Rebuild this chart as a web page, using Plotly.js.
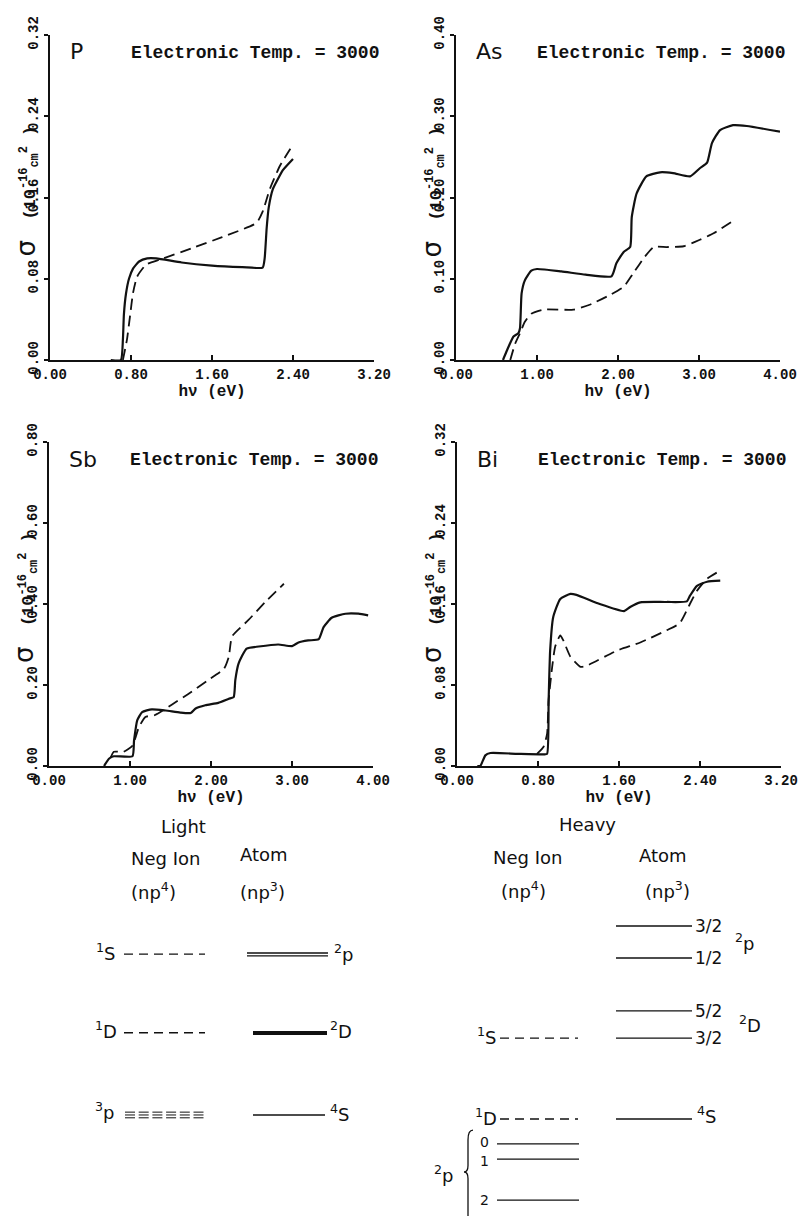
<!DOCTYPE html>
<html><head><meta charset="utf-8">
<script src="https://cdn.plot.ly/plotly-3.0.1.min.js"></script>
<style>html,body{margin:0;padding:0;background:#fff;} #chart{width:807px;height:1216px;}</style>
</head><body><div id="chart"></div>
<script>
// ---------------- DATA ----------------
// P panel (photodetachment cross section, 10^-16 cm^2 vs h nu, eV)
const pSolidX = [0.60, 0.70, 0.72, 0.73, 0.75, 0.78, 0.82, 0.88, 0.96, 1.05, 1.30, 1.60, 1.90, 2.10, 2.12, 2.14, 2.16, 2.20, 2.25, 2.30, 2.40];
const pSolidY = [0, 0, 0.02, 0.045, 0.065, 0.08, 0.09, 0.097, 0.1, 0.1, 0.096, 0.093, 0.0915, 0.091, 0.1, 0.13, 0.15, 0.168, 0.178, 0.187, 0.198];
const pDashX  = [0.72, 0.76, 0.79, 0.82, 0.86, 0.95, 1.09, 1.40, 1.70, 2.04, 2.10, 2.17, 2.27, 2.40];
const pDashY  = [0, 0.02, 0.043, 0.066, 0.082, 0.094, 0.099, 0.11, 0.121, 0.135, 0.146, 0.168, 0.191, 0.212];
// As panel
const asSolidX = [0.58, 0.63, 0.71, 0.77, 0.79, 0.81, 0.85, 0.93, 1.00, 1.30, 1.60, 1.92, 1.98, 2.07, 2.15, 2.17, 2.23, 2.35, 2.52, 2.68, 2.89, 3.01, 3.10, 3.16, 3.26, 3.42, 3.59, 4.00];
const asSolidY = [0, 0.012, 0.029, 0.033, 0.039, 0.082, 0.098, 0.11, 0.112, 0.109, 0.105, 0.103, 0.119, 0.133, 0.139, 0.176, 0.205, 0.226, 0.231, 0.230, 0.226, 0.236, 0.243, 0.267, 0.283, 0.289, 0.288, 0.281];
const asDashX  = [0.67, 0.73, 0.79, 0.85, 0.93, 1.08, 1.45, 1.65, 1.90, 2.07, 2.19, 2.33, 2.44, 2.60, 2.81, 3.01, 3.18, 3.40];
const asDashY  = [0, 0.02, 0.033, 0.047, 0.057, 0.062, 0.062, 0.068, 0.08, 0.09, 0.107, 0.127, 0.139, 0.139, 0.14, 0.148, 0.156, 0.170];
// Sb panel
const sbSolidX = [0.68, 0.74, 0.80, 1.03, 1.05, 1.09, 1.15, 1.27, 1.44, 1.62, 1.75, 1.81, 1.93, 2.09, 2.22, 2.28, 2.30, 2.34, 2.44, 2.59, 2.83, 3.00, 3.08, 3.20, 3.33, 3.39, 3.49, 3.66, 3.82, 3.94];
const sbSolidY = [0, 0.018, 0.024, 0.024, 0.063, 0.113, 0.133, 0.14, 0.137, 0.132, 0.131, 0.142, 0.15, 0.156, 0.166, 0.17, 0.212, 0.253, 0.29, 0.295, 0.30, 0.296, 0.305, 0.31, 0.313, 0.343, 0.366, 0.376, 0.376, 0.372];
const sbDashX  = [0.76, 0.80, 0.92, 1.03, 1.11, 1.19, 1.31, 1.52, 1.72, 1.95, 2.16, 2.22, 2.26, 2.46, 2.67, 2.90];
const sbDashY  = [0.02, 0.035, 0.035, 0.05, 0.096, 0.121, 0.126, 0.152, 0.178, 0.21, 0.24, 0.27, 0.32, 0.36, 0.405, 0.45];
// Bi panel
const biSolidX = [0.20, 0.23, 0.28, 0.33, 0.60, 0.86, 0.89, 0.905, 0.92, 0.95, 1.02, 1.12, 1.18, 1.41, 1.65, 1.71, 1.81, 2.07, 2.27, 2.30, 2.37, 2.47, 2.60];
const biSolidY = [0, 0, 0.0105, 0.0128, 0.012, 0.0115, 0.012, 0.065, 0.114, 0.147, 0.165, 0.170, 0.169, 0.160, 0.153, 0.157, 0.1616, 0.162, 0.1626, 0.168, 0.178, 0.182, 0.183];
const biDashX  = [0.79, 0.855, 0.89, 0.905, 0.94, 0.97, 1.02, 1.05, 1.12, 1.22, 1.28, 1.58, 1.81, 2.07, 2.20, 2.30, 2.37, 2.47, 2.60];
const biDashY  = [0.012, 0.019, 0.032, 0.065, 0.098, 0.118, 0.129, 0.124, 0.108, 0.098, 0.099, 0.114, 0.122, 0.134, 0.141, 0.160, 0.173, 0.185, 0.193];

// tick values
const xTicksP  = [0, 0.8, 1.6, 2.4, 3.2];
const xTicksAs = [0, 1, 2, 3, 4];
const xTicksSb = [0, 1, 2, 3, 4];
const xTicksBi = [0, 0.8, 1.6, 2.4, 3.2];
const yTicksP  = [0, 0.08, 0.16, 0.24, 0.32];
const yTicksAs = [0, 0.1, 0.2, 0.3, 0.4];
const yTicksSb = [0, 0.2, 0.4, 0.6, 0.8];
const yTicksBi = [0, 0.08, 0.16, 0.24, 0.32];
const panelNames = ['P', 'As', 'Sb', 'Bi'];
const tempText = 'Electronic Temp. = 3000';

// schematic energy levels (units: level spacing)
const lightIon3P    = [0.06, 0.025, -0.01];
const lightIon1D1S  = [1.04, 2.01];
const lightAtom2P   = [2.025, 1.99];
const lightAtom2D   = [1.05, 1.025];
const lightAtom4S   = [0.025];
const heavyIon1D1S  = [-0.025, 0.975];
const heavyIon3P    = [-0.333, -0.519, -1.025];   // J = 0, 1, 2
const heavyIon3PJ   = ['0', '1', '2'];
const heavyAtomLevels = [-0.025, 0.975, 1.309, 1.963, 2.358]; // 4S, 2D3/2, 2D5/2, 2P1/2, 2P3/2
const heavyAtomJ      = ['', '3/2', '5/2', '1/2', '3/2'];

// ---------------- LAYOUT HELPERS ----------------
const W = 807, H = 1216;
const px = x => x / W, py = y => 1 - y / H;
const INK = '#111';
const monoB = (s) => ({family: 'Liberation Mono, DejaVu Sans Mono, monospace', size: s, weight: 'bold', color: INK});
const sans = (s) => ({family: 'DejaVu Sans, Liberation Sans, sans-serif', size: s, color: INK});

const panels = [
  {xa: 'x',  ya: 'y',  xd: [50, 374],  yd: [35, 360],  xr: [0, 3.2], yr: [0, 0.32], xt: xTicksP,  yt: yTicksP,  s: [pSolidX, pSolidY],  d: [pDashX, pDashY]},
  {xa: 'x2', ya: 'y2', xd: [456, 780], yd: [35, 360],  xr: [0, 4],   yr: [0, 0.40], xt: xTicksAs, yt: yTicksAs, s: [asSolidX, asSolidY], d: [asDashX, asDashY]},
  {xa: 'x3', ya: 'y3', xd: [49, 373],  yd: [442, 766], xr: [0, 4],   yr: [0, 0.80], xt: xTicksSb, yt: yTicksSb, s: [sbSolidX, sbSolidY], d: [sbDashX, sbDashY]},
  {xa: 'x4', ya: 'y4', xd: [457, 781], yd: [442, 766], xr: [0, 3.2], yr: [0, 0.32], xt: xTicksBi, yt: yTicksBi, s: [biSolidX, biSolidY], d: [biDashX, biDashY]}
];

const traces = [];
const layout = {
  width: W, height: H, margin: {l: 0, r: 0, t: 0, b: 0},
  paper_bgcolor: '#fff', plot_bgcolor: 'rgba(0,0,0,0)', showlegend: false,
  annotations: [], shapes: []
};

panels.forEach((p, i) => {
  const xk = 'xaxis' + (i ? i + 1 : ''), yk = 'yaxis' + (i ? i + 1 : '');
  layout[xk] = {
    domain: [px(p.xd[0]), px(p.xd[1])], range: p.xr, anchor: p.ya,
    showline: true, linecolor: INK, linewidth: 2, ticks: 'inside', ticklen: 5, tickwidth: 2, tickcolor: INK,
    tickvals: p.xt, tickformat: '.2f', tickfont: monoB(14), showgrid: false, zeroline: false, fixedrange: true,
    title: {text: 'hν (eV)', font: monoB(16), standoff: 1}
  };
  layout[yk] = {
    domain: [py(p.yd[1]), py(p.yd[0])], range: p.yr, anchor: p.xa,
    showline: true, linecolor: INK, linewidth: 2, ticks: 'outside', ticklen: 4, tickwidth: 2, tickcolor: INK,
    tickvals: p.yt, tickformat: '.2f', tickangle: -90, tickfont: monoB(14), showgrid: false, zeroline: false, fixedrange: true
  };
  traces.push({x: p.s[0], y: p.s[1], xaxis: p.xa, yaxis: p.ya, mode: 'lines', line: {color: INK, width: 2.2, shape: 'spline', smoothing: 0.5}, hoverinfo: 'skip'});
  traces.push({x: p.d[0], y: p.d[1], xaxis: p.xa, yaxis: p.ya, mode: 'lines', line: {color: INK, width: 1.8, dash: '11px,6px', shape: 'spline', smoothing: 0.5}, hoverinfo: 'skip'});
  // panel labels
  const lx = p.xd[0] + 18, ty = p.yd[0] + 17;
  layout.annotations.push({text: panelNames[i], xref: 'paper', yref: 'paper', x: px(lx), y: py(ty), xanchor: 'left', yanchor: 'middle', showarrow: false, font: sans(22)});
  layout.annotations.push({text: tempText, xref: 'paper', yref: 'paper', x: px(p.xd[0] + 79), y: py(ty + 1), xanchor: 'left', yanchor: 'middle', showarrow: false, font: monoB(18)});
  // y-axis title
  layout.annotations.push({
    text: '<span style="font-size:26px;font-weight:normal;font-family:DejaVu Sans">σ</span>  (10<sup>-16</sup><sub>cm</sub><sup>2</sup> )',
    xref: 'paper', yref: 'paper', x: px(p.xd[0] - 24), y: py((p.yd[0] + p.yd[1]) / 2 - 6), xanchor: 'center', yanchor: 'middle',
    textangle: -90, showarrow: false, font: monoB(17)
  });
});

// ---------------- ENERGY LEVEL DIAGRAM ----------------
const Y0PX = 1117, UNIT = 81;
layout.xaxis5 = {domain: [0, 1], range: [0, W], visible: false, fixedrange: true, anchor: 'y5'};
layout.yaxis5 = {domain: [0, py(800)], range: [(Y0PX - 1216) / UNIT, (Y0PX - 800) / UNIT], visible: false, fixedrange: true, anchor: 'x5'};

function levelTrace(levels, span, line) {
  const x = [], y = [];
  levels.forEach(l => { x.push(span[0], span[1], null); y.push(l, l, null); });
  return {x, y, xaxis: 'x5', yaxis: 'y5', mode: 'lines', line: Object.assign({color: INK}, line), hoverinfo: 'skip'};
}
// light
traces.push(levelTrace(lightIon3P, [125, 207], {width: 1, dash: '10px,3.7px'}));
traces.push(levelTrace(lightIon1D1S, [124, 205], {width: 1.3, dash: '9px,6px'}));
traces.push(levelTrace(lightAtom2P, [247, 328], {width: 1.3}));
traces.push(levelTrace(lightAtom2D, [253, 327], {width: 2}));
traces.push(levelTrace(lightAtom4S, [253, 325], {width: 1.3}));
// heavy
traces.push(levelTrace(heavyIon1D1S, [500, 578], {width: 1.3, dash: '9px,6px'}));
traces.push(levelTrace(heavyIon3P, [497, 579], {width: 1.3}));
traces.push(levelTrace(heavyAtomLevels, [616, 692], {width: 1.3}));

const lv = l => py(Y0PX - l * UNIT);
const ann = (text, x, yPaper, xanchor, size) => layout.annotations.push({text, xref: 'paper', yref: 'paper', x: px(x), y: yPaper, xanchor: xanchor || 'center', yanchor: 'middle', showarrow: false, font: sans(size || 18)});
// headers
ann('Light', 183, py(826)); ann('Neg Ion', 165, py(858)); ann('(np<sup>4</sup>)', 153, py(891));
ann('Atom', 264, py(854)); ann('(np<sup>3</sup>)', 262, py(891));
ann('Heavy', 587, py(824)); ann('Neg Ion', 527, py(857)); ann('(np<sup>4</sup>)', 523, py(890));
ann('Atom', 663, py(855)); ann('(np<sup>3</sup>)', 667, py(890));
// light labels
ann('<sup>1</sup>S', 117, lv(lightIon1D1S[1]) + 0.002, 'right');
ann('<sup>1</sup>D', 119, lv(lightIon1D1S[0]) + 0.002, 'right');
ann('<sup>3</sup>p', 116, lv(lightIon3P[1]) + 0.003, 'right');
ann('<sup>2</sup>p', 332, lv(lightAtom2P[0]), 'left');
ann('<sup>2</sup>D', 328, lv(lightAtom2D[0]) + 0.002, 'left');
ann('<sup>4</sup>S', 328, lv(lightAtom4S[0]) + 0.002, 'left');
// heavy labels
ann('<sup>1</sup>S', 498, lv(heavyIon1D1S[1]) + 0.002, 'right');
ann('<sup>1</sup>D', 499, lv(heavyIon1D1S[0]) + 0.002, 'right');
heavyIon3P.forEach((l, i) => ann(heavyIon3PJ[i], 484, lv(l) + (i === 0 ? 0.002 : (i === 1 ? -0.002 : 0)), 'center', 14));
ann('<sup>2</sup>p', 455, lv((heavyIon3P[0] + heavyIon3P[2]) / 2) - 0.002, 'right');
heavyAtomJ.forEach((j, i) => { if (j) ann(j, 693, lv(heavyAtomLevels[i]), 'left', 17); });
ann('<sup>4</sup>S', 695, lv(heavyAtomLevels[0]) + 0.003, 'left');
ann('<sup>2</sup>p', 733, lv((heavyAtomLevels[3] + heavyAtomLevels[4]) / 2), 'left');
ann('<sup>2</sup>D', 737, lv((heavyAtomLevels[1] + heavyAtomLevels[2]) / 2), 'left');
// brace for 3P multiplet
const bt = heavyIon3P[0] + 0.17, bm = (heavyIon3P[0] + heavyIon3P[2]) / 2, bb = (Y0PX - 1216) / UNIT;
layout.shapes.push({type: 'path', xref: 'x5', yref: 'y5',
  path: `M 473,${bt} Q 468,${bt} 468,${bt - 0.12} L 468,${bm + 0.08} Q 468,${bm} 464,${bm} Q 468,${bm} 468,${bm - 0.08} L 468,${bb}`,
  line: {color: INK, width: 1.3}});

Plotly.newPlot('chart', traces, layout, {staticPlot: true});
</script></body></html>
